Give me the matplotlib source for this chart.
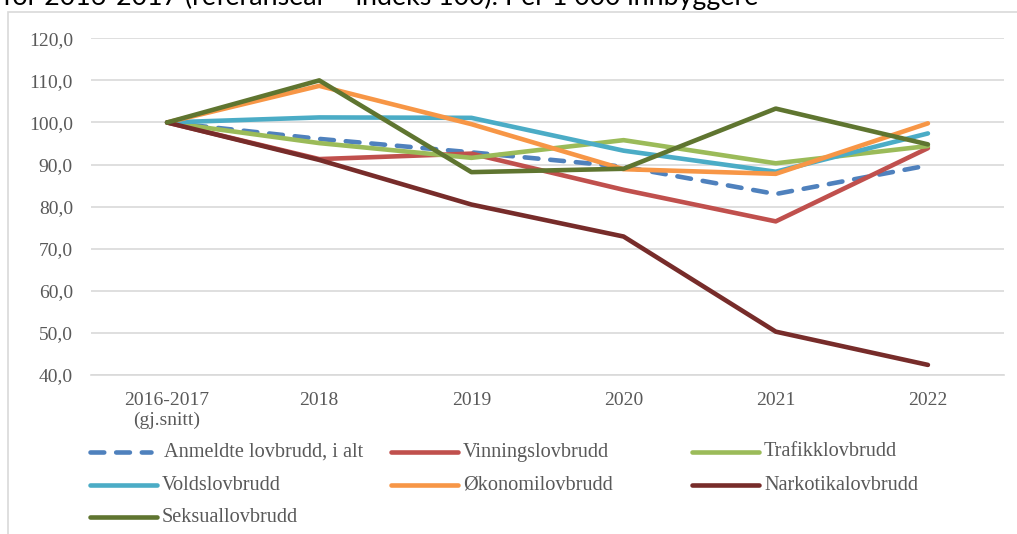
import matplotlib.pyplot as plt
from matplotlib.lines import Line2D
from matplotlib.patches import Rectangle

# Kategorier og indeksverdier (2016-2017 = 100)
years = ["2016-2017\n(gj.snitt)", "2018", "2019", "2020", "2021", "2022"]
anmeldte = [100.0, 96.1, 92.9, 89.5, 83.0, 89.8]
vinning = [100.0, 91.3, 92.6, 84.0, 76.5, 93.9]
trafikk = [100.0, 95.1, 91.6, 95.8, 90.3, 94.4]
vold = [100.0, 101.2, 101.1, 93.3, 88.3, 97.4]
okonomi = [100.0, 108.7, 99.6, 88.9, 87.8, 99.8]
narkotika = [100.0, 91.1, 80.5, 72.9, 50.3, 42.4]
seksual = [100.0, 110.0, 88.2, 89.0, 103.3, 94.8]

names = ["Anmeldte lovbrudd, i alt", "Vinningslovbrudd", "Trafikklovbrudd",
         "Voldslovbrudd", "Økonomilovbrudd", "Narkotikalovbrudd", "Seksuallovbrudd"]
series = [anmeldte, vinning, trafikk, vold, okonomi, narkotika, seksual]
colors = ["#4F81BD", "#C0504D", "#9BBB59", "#4BACC6", "#F79646", "#772C2A", "#5F7530"]

W, H = 1017, 534
fig = plt.figure(figsize=(W / 100, H / 100), dpi=100)
serif = ["Liberation Serif", "DejaVu Serif"]
grey = "#595959"
dash = (0, (3.0, 2.6))

# ramme rundt diagrammet
fig.add_artist(Rectangle((8 / W, -0.1), 1.2, 1 - 12 / H + 0.1, transform=fig.transFigure,
                         fill=False, edgecolor="#D9D9D9", lw=1.2))
# avkuttet tittel øverst
fig.text(3 / W, 1 - 5 / H, "for 2016-2017 (referanseår = indeks 100). Per 1 000 innbyggere",
         fontsize=19.3, family=["Lato", "DejaVu Sans"], color="#000000", va="baseline", ha="left")

ax = fig.add_axes([91 / W, 1 - 375 / H, (1004 - 91) / W, (375 - 38.3) / H])
x = list(range(len(years)))
lw = 3.3
for i, (vals, name, c) in enumerate(zip(series, names, colors)):
    if i == 0:
        ax.plot(x, vals, color=c, lw=lw, linestyle=dash, dash_capstyle="round",
                zorder=3 + i)
    else:
        ax.plot(x, vals, color=c, lw=lw, solid_capstyle="round", solid_joinstyle="round",
                zorder=3 + i)

ax.set_xlim(-0.5, 5.5)
ax.set_ylim(40, 120)
ax.set_yticks(range(40, 121, 10))
ax.set_yticklabels([f"{v},0" for v in range(40, 121, 10)])
ax.set_xticks(x)
ax.set_xticklabels(years, linespacing=1.2)
ax.grid(axis="y", color="#D9D9D9", lw=1.2)
ax.set_axisbelow(True)
for s in ["left", "right", "top"]:
    ax.spines[s].set_visible(False)
ax.spines["bottom"].set_color("#D9D9D9")
ax.spines["bottom"].set_linewidth(1.2)
ax.tick_params(length=0, labelsize=14, labelcolor=grey)
ax.tick_params(axis="y", pad=13)
ax.tick_params(axis="x", pad=12)
for lab in ax.get_xticklabels() + ax.get_yticklabels():
    lab.set_family(serif)

# forklaring, tre kolonner
col_x = [87, 388, 689]
row_y = [452, 485, 517]
for i, (name, c) in enumerate(zip(names, colors)):
    cx = col_x[i % 3]
    cy = row_y[i // 3]
    y = 1 - cy / H
    if i == 0:
        fig.add_artist(Line2D([(cx + 3) / W, (cx + 64) / W], [y, y], transform=fig.transFigure,
                              color=c, lw=lw, linestyle=dash, dash_capstyle="round"))
    else:
        fig.add_artist(Line2D([(cx + 3) / W, (cx + 70) / W], [y, y], transform=fig.transFigure,
                              color=c, lw=lw, solid_capstyle="round"))
    tx = cx + 77 if i == 0 else cx + 75
    fig.text(tx / W, y, name, fontsize=14.6, family=serif, color=grey, va="center", ha="left")

fig.savefig("out.png", dpi=100)
